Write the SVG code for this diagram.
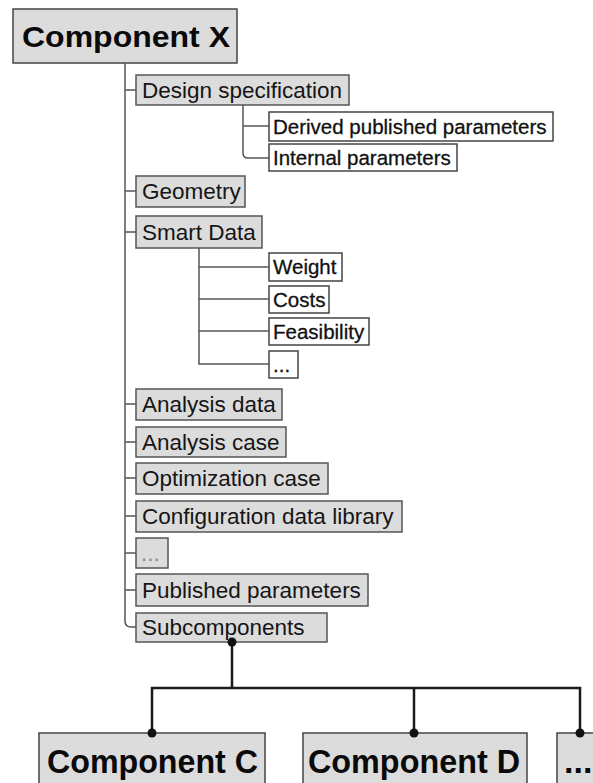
<svg xmlns="http://www.w3.org/2000/svg" width="593" height="783" viewBox="0 0 593 783">
  <style>
    .box { fill: #dcdcdc; stroke: #555; stroke-width: 1.5; }
    .sub { fill: #ffffff; stroke: #444; stroke-width: 1.5; }
    .big { fill: #dcdcdc; stroke: #444; stroke-width: 1.5; }
    .t1 { font-family: "Liberation Sans", Arial, sans-serif; font-size: 22.5px; fill: #151515; }
    .t2 { font-family: "Liberation Sans", Arial, sans-serif; font-size: 20.5px; fill: #111; stroke: #111; stroke-width: 0.3; }
    .tb { font-family: "Liberation Sans", Arial, sans-serif; font-weight: bold; fill: #0a0a0a; }
    .tree { fill: none; stroke: #555; stroke-width: 1.5; }
    .bus { fill: none; stroke: #1a1a1a; stroke-width: 2.5; }
  </style>
  <defs>
    <marker id="dot" markerWidth="12" markerHeight="12" refX="6" refY="6" markerUnits="userSpaceOnUse">
      <circle cx="6" cy="6" r="4.5" fill="#111"/>
    </marker>
  </defs>
  <rect width="593" height="783" fill="#ffffff"/>

  <g id="component-x">
    <rect class="big" x="13" y="9" width="224" height="54"/>
    <text class="tb" x="22" y="47" font-size="30" textLength="208" lengthAdjust="spacingAndGlyphs">Component X</text>
  </g>

  <g id="design-specification">
    <rect class="box" x="136" y="75" width="213" height="30"/>
    <text class="t1" x="142" y="98">Design specification</text>
  </g>
  <g id="derived-published-parameters">
    <rect class="sub" x="269" y="112" width="284" height="29"/>
    <text class="t2" x="273" y="134">Derived published parameters</text>
  </g>
  <g id="internal-parameters">
    <rect class="sub" x="269" y="144" width="188" height="27"/>
    <text class="t2" x="273" y="165">Internal parameters</text>
  </g>

  <g id="geometry">
    <rect class="box" x="136" y="176" width="109" height="31"/>
    <text class="t1" x="142" y="199">Geometry</text>
  </g>

  <g id="smart-data">
    <rect class="box" x="136" y="216" width="126" height="32"/>
    <text class="t1" x="142" y="240">Smart Data</text>
  </g>
  <g id="weight">
    <rect class="sub" x="269" y="253" width="73" height="28"/>
    <text class="t2" x="273" y="274">Weight</text>
  </g>
  <g id="costs">
    <rect class="sub" x="269" y="286" width="60" height="27"/>
    <text class="t2" x="273" y="307">Costs</text>
  </g>
  <g id="feasibility">
    <rect class="sub" x="269" y="318" width="100" height="27"/>
    <text class="t2" x="273" y="339">Feasibility</text>
  </g>
  <g id="smart-data-more">
    <rect class="sub" x="269" y="351" width="29" height="27"/>
    <text class="t2" x="273" y="372">...</text>
  </g>

  <g id="analysis-data">
    <rect class="box" x="136" y="389" width="146" height="31"/>
    <text class="t1" x="142" y="412">Analysis data</text>
  </g>
  <g id="analysis-case">
    <rect class="box" x="136" y="427" width="150" height="30"/>
    <text class="t1" x="142" y="450">Analysis case</text>
  </g>
  <g id="optimization-case">
    <rect class="box" x="136" y="463" width="192" height="31"/>
    <text class="t1" x="142" y="486">Optimization case</text>
  </g>
  <g id="configuration-data-library">
    <rect class="box" x="136" y="501" width="266" height="31"/>
    <text class="t1" x="142" y="524">Configuration data library</text>
  </g>
  <g id="more">
    <rect class="box" x="136" y="538" width="32" height="30"/>
    <text class="t1" x="141" y="561" style="fill:#888">...</text>
  </g>
  <g id="published-parameters">
    <rect class="box" x="136" y="574" width="232" height="32"/>
    <text class="t1" x="142" y="598">Published parameters</text>
  </g>
  <g id="subcomponents">
    <rect class="box" x="136" y="613" width="191" height="29"/>
    <text class="t1" x="142" y="635">Subcomponents</text>
  </g>

  <g id="component-c">
    <rect class="big" x="39" y="733" width="226" height="60"/>
    <text class="tb" x="47" y="773" font-size="34" textLength="211" lengthAdjust="spacingAndGlyphs">Component C</text>
  </g>
  <g id="component-d">
    <rect class="big" x="303" y="733" width="224" height="60"/>
    <text class="tb" x="308" y="773" font-size="34" textLength="212" lengthAdjust="spacingAndGlyphs">Component D</text>
  </g>
  <g id="component-more">
    <rect class="big" x="557" y="733" width="50" height="60"/>
    <text class="tb" x="564" y="773" font-size="34">...</text>
  </g>

  <g id="connectors">
    <!-- main trunk with ticks -->
    <path class="tree" d="M125 63 V621 Q125 627 131 627 H136"/>
    <path class="tree" d="M125 90 H136 M125 191 H136 M125 232 H136 M125 404 H136 M125 442 H136 M125 478 H136 M125 516 H136 M125 553 H136 M125 590 H136"/>
    <!-- design specification branch -->
    <path class="tree" d="M243 105 V153 Q243 158 248 158 H269 M243 126 H269"/>
    <!-- smart data branch -->
    <path class="tree" d="M199 248 V364 H269 M199 267 H269 M199 299 H269 M199 331 H269"/>
    <!-- subcomponent bus -->
    <path class="bus" d="M232 642 V688" marker-start="url(#dot)"/>
    <path class="bus" d="M152 733 V688 H580 V733" marker-start="url(#dot)" marker-end="url(#dot)"/>
    <path class="bus" d="M414 688 V733" marker-end="url(#dot)"/>
  </g>
</svg>
